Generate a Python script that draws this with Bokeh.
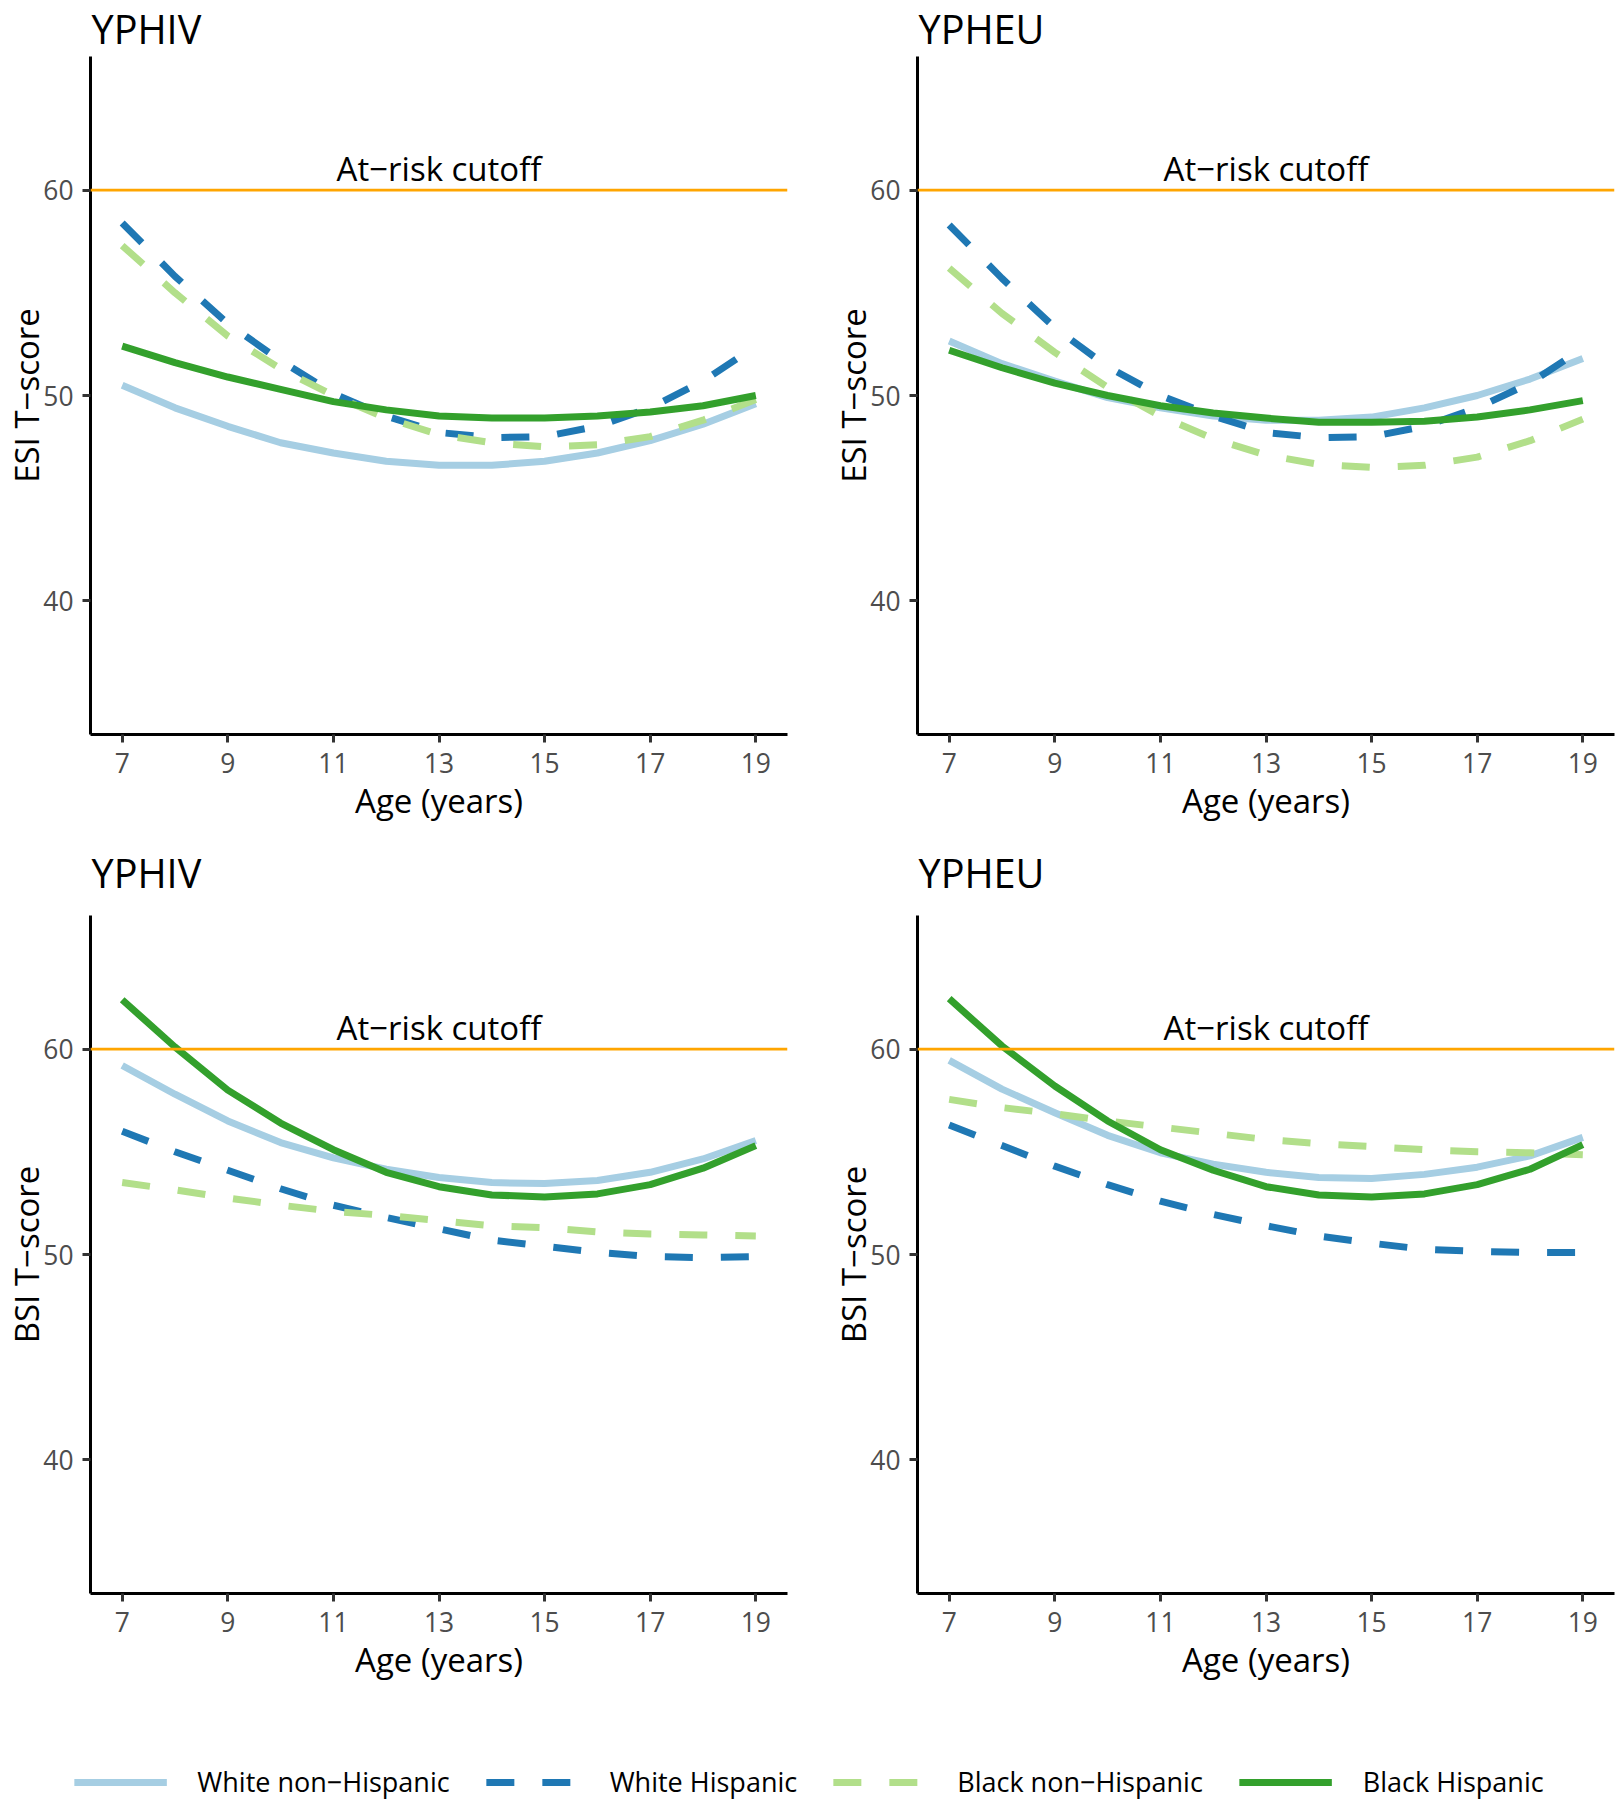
from bokeh.plotting import figure
from bokeh.models import Range1d, Span, Label, Legend, LegendItem
from bokeh.layouts import column, row
from bokeh.embed import file_html
from bokeh.resources import INLINE

FONT = "Open Sans"

# ---------------- data ----------------
ages = [7, 8, 9, 10, 11, 12, 13, 14, 15, 16, 17, 18, 19]
groups = ["White non\u2212Hispanic", "White Hispanic", "Black non\u2212Hispanic", "Black Hispanic"]
group_colors = ["#A6CEE3", "#1F78B4", "#B2DF8A", "#33A02C"]
group_dashes = ["solid", "28 28", "28 28", "solid"]

x_ticks = [7, 9, 11, 13, 15, 17, 19]
y_ticks = [40, 50, 60]
cutoff_value = 60
cutoff_text = "At\u2212risk cutoff"
x_label = "Age (years)"

panel_titles = ["YPHIV", "YPHEU", "YPHIV", "YPHEU"]
panel_ylabels = ["ESI T\u2212score", "ESI T\u2212score", "BSI T\u2212score", "BSI T\u2212score"]

# ESI, YPHIV
esi_hiv_white_nonhisp = [50.5, 49.4, 48.5, 47.7, 47.2, 46.8, 46.6, 46.6, 46.8, 47.2, 47.8, 48.6, 49.6]
esi_hiv_white_hisp = [58.4, 55.8, 53.5, 51.7, 50.1, 49.0, 48.2, 47.95, 48.0, 48.5, 49.4, 50.7, 52.4]
esi_hiv_black_nonhisp = [57.3, 55.0, 52.9, 51.3, 50.0, 48.9, 48.1, 47.7, 47.5, 47.6, 48.0, 48.8, 49.8]
esi_hiv_black_hisp = [52.4, 51.6, 50.9, 50.3, 49.7, 49.3, 49.0, 48.9, 48.9, 49.0, 49.2, 49.5, 50.0]

# ESI, YPHEU
esi_heu_white_nonhisp = [52.65, 51.55, 50.7, 49.9, 49.4, 49.0, 48.8, 48.8, 48.95, 49.4, 50.0, 50.8, 51.8]
esi_heu_white_hisp = [58.3, 55.7, 53.3, 51.4, 50.0, 49.0, 48.2, 47.95, 48.0, 48.5, 49.4, 50.6, 52.3]
esi_heu_black_nonhisp = [56.2, 54.0, 52.1, 50.4, 49.0, 47.9, 47.1, 46.65, 46.5, 46.6, 47.0, 47.8, 48.85]
esi_heu_black_hisp = [52.2, 51.35, 50.6, 50.0, 49.5, 49.15, 48.9, 48.7, 48.7, 48.75, 48.95, 49.3, 49.75]

# BSI, YPHIV
bsi_hiv_white_nonhisp = [59.2, 57.8, 56.5, 55.45, 54.7, 54.15, 53.75, 53.5, 53.45, 53.6, 54.0, 54.65, 55.55]
bsi_hiv_white_hisp = [56.0, 55.0, 54.1, 53.2, 52.4, 51.8, 51.25, 50.7, 50.4, 50.1, 49.9, 49.85, 49.9]
bsi_hiv_black_nonhisp = [53.5, 53.15, 52.75, 52.4, 52.1, 51.9, 51.65, 51.4, 51.3, 51.1, 51.0, 50.95, 50.9]
bsi_hiv_black_hisp = [62.4, 60.1, 58.0, 56.4, 55.1, 54.0, 53.3, 52.9, 52.8, 52.95, 53.4, 54.2, 55.3]

# BSI, YPHEU
bsi_heu_white_nonhisp = [59.45, 58.05, 56.9, 55.8, 54.95, 54.4, 54.0, 53.75, 53.7, 53.9, 54.25, 54.8, 55.7]
bsi_heu_white_hisp = [56.3, 55.3, 54.3, 53.4, 52.6, 51.95, 51.4, 50.9, 50.55, 50.25, 50.15, 50.1, 50.1]
bsi_heu_black_nonhisp = [57.55, 57.15, 56.85, 56.5, 56.2, 55.9, 55.6, 55.4, 55.25, 55.1, 55.0, 54.95, 54.85]
bsi_heu_black_hisp = [62.45, 60.15, 58.2, 56.5, 55.1, 54.1, 53.3, 52.9, 52.8, 52.95, 53.4, 54.15, 55.35]

panel_series = [
    [esi_hiv_white_nonhisp, esi_hiv_white_hisp, esi_hiv_black_nonhisp, esi_hiv_black_hisp],
    [esi_heu_white_nonhisp, esi_heu_white_hisp, esi_heu_black_nonhisp, esi_heu_black_hisp],
    [bsi_hiv_white_nonhisp, bsi_hiv_white_hisp, bsi_hiv_black_nonhisp, bsi_hiv_black_hisp],
    [bsi_heu_white_nonhisp, bsi_heu_white_hisp, bsi_heu_black_nonhisp, bsi_heu_black_hisp],
]

# axis limits (ggplot-style 5% expansion)
X_LO, X_HI = 6.4, 19.6
Y_LO, Y_HI = 33.5, 66.5


def style_blank(p):
    p.outline_line_color = None
    p.xgrid.visible = False
    p.ygrid.visible = False
    p.background_fill_color = "white"
    p.border_fill_color = "white"


def make_title_strip(title, width, height, left, right, offset):
    t = figure(width=width, height=height, x_range=Range1d(X_LO, X_HI), y_range=Range1d(0, 1),
               output_backend="svg", toolbar_location=None,
               min_border_left=left, min_border_right=right, min_border_top=0, min_border_bottom=0,
               x_axis_location=None, y_axis_location=None)
    style_blank(t)
    t.add_layout(Label(x=X_LO, y=0, x_offset=1, y_offset=offset, text=title,
                       text_align="left", text_baseline="middle",
                       text_font=FONT, text_font_size="39.6px", text_color="black"))
    return t


def make_panel(ylabel, series, width, height, left, right, bottom):
    p = figure(width=width, height=height,
               x_range=Range1d(X_LO, X_HI), y_range=Range1d(Y_LO, Y_HI),
               output_backend="svg", toolbar_location=None,
               min_border_left=left, min_border_right=right,
               min_border_top=0, min_border_bottom=bottom)
    style_blank(p)

    for ax in (p.xaxis[0], p.yaxis[0]):
        ax.axis_line_color = "black"
        ax.axis_line_width = 3
        ax.major_tick_line_color = "#333333"
        ax.major_tick_line_width = 3
        ax.major_tick_out = 8
        ax.major_tick_in = 0
        ax.minor_tick_line_color = None
        ax.major_label_text_font = FONT
        ax.major_label_text_font_size = "26.4px"
        ax.major_label_text_color = "#4D4D4D"
        ax.axis_label_text_font = FONT
        ax.axis_label_text_font_size = "33px"
        ax.axis_label_text_font_style = "normal"
        ax.axis_label_text_color = "black"

    p.xaxis.ticker = x_ticks
    p.yaxis.ticker = y_ticks
    p.xaxis.axis_label = x_label
    p.yaxis.axis_label = ylabel
    p.xaxis.major_label_standoff = 10
    p.xaxis.axis_label_standoff = 2
    p.yaxis.major_label_standoff = 9
    p.yaxis.axis_label_standoff = -9

    for vals, c, d in zip(series, group_colors, group_dashes):
        p.line(ages, vals, line_color=c, line_width=7, line_dash=d, line_join="round")

    p.add_layout(Span(location=cutoff_value, dimension="width",
                      line_color="#FFA500", line_width=2.7))
    p.add_layout(Label(x=13, y=cutoff_value, y_offset=22, text=cutoff_text,
                       text_align="center", text_baseline="middle",
                       text_font=FONT, text_font_size="33px", text_color="black"))
    return p


W_L, W_R = 827, 790
t1 = make_title_strip(panel_titles[0], W_L, 56, 90, 40, 28)
t2 = make_title_strip(panel_titles[1], W_R, 56, 90, 3, 28)
p1 = make_panel(panel_ylabels[0], panel_series[0], W_L, 774, 90, 40, 96)
p2 = make_panel(panel_ylabels[1], panel_series[1], W_R, 774, 90, 3, 96)
t3 = make_title_strip(panel_titles[2], W_L, 85, 90, 40, 43)
t4 = make_title_strip(panel_titles[3], W_R, 85, 90, 3, 43)
p3 = make_panel(panel_ylabels[2], panel_series[2], W_L, 775, 90, 40, 97)
p4 = make_panel(panel_ylabels[3], panel_series[3], W_R, 775, 90, 3, 97)

leg = figure(width=W_L + W_R, height=110, x_range=Range1d(0, 1), y_range=Range1d(0, 1),
             output_backend="svg", toolbar_location=None, min_border=0,
             x_axis_location=None, y_axis_location=None)
style_blank(leg)
items = []
for g, vals, c, d in zip(groups, panel_series[0], group_colors, group_dashes):
    # data lies outside this helper plot's ranges: only the legend key shows
    r = leg.line(ages, vals, line_color=c, line_width=7, line_dash=d)
    items.append(LegendItem(label=g, renderers=[r]))
legend = Legend(items=items, orientation="horizontal", location="bottom_center",
                glyph_width=93, glyph_height=30, label_standoff=31, spacing=36,
                padding=0, margin=0, border_line_color=None, background_fill_alpha=0,
                label_text_font=FONT, label_text_font_size="27px", label_text_color="black")
leg.add_layout(legend, "center")

layout = column(row(t1, t2), row(p1, p2), row(t3, t4), row(p3, p4), leg)

with open("out.html", "w") as f:
    f.write(file_html(layout, INLINE))
